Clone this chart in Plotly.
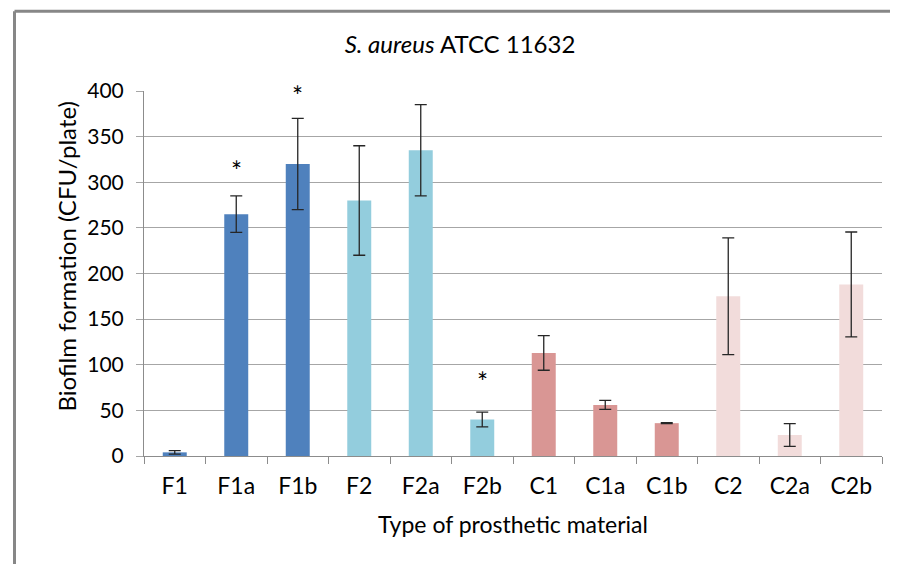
import plotly.graph_objects as go

categories = ["F1", "F1a", "F1b", "F2", "F2a", "F2b", "C1", "C1a", "C1b", "C2", "C2a", "C2b"]
values = [4, 265, 320, 280, 335, 40, 113, 56, 36, 175, 23, 188]
errors = [2, 20, 50, 60, 50, 8, 19, 5, 0.5, 64, 12.5, 57.5]
colors = ["#4F81BD"] * 3 + ["#93CDDD"] * 3 + ["#D99694"] * 3 + ["#F2DCDB"] * 3
star_cats = ["F1a", "F1b", "F2b"]
star_vals = [318, 400, 87]
y_ticks = [0, 50, 100, 150, 200, 250, 300, 350, 400]

FONT = "Lato, Carlito, sans-serif"
GRID = "#A6A6A6"
AX = "#8C8C8C"

W, H = 890, 556
L, R, T, B = 136, 16, 83, 108
pw, ph = W - L - R, H - T - B

fig = go.Figure()
fig.add_trace(go.Bar(
    x=categories, y=values, width=0.39,
    marker=dict(color=colors, line=dict(width=0)),
    error_y=dict(type="data", array=errors, visible=True, color="#262626", thickness=1.3, width=6),
    showlegend=False,
))

for c, v in zip(star_cats, star_vals):
    fig.add_annotation(x=c, y=v, text="*", showarrow=False, yshift=-5,
                       font=dict(size=26, color="#000", family=FONT), yanchor="middle")

fig.add_annotation(text="Biofilm formation (CFU/plate)", textangle=-90, showarrow=False,
                   xref="paper", yref="paper", x=(58 - L) / pw, y=(H - B - 248.5) / ph,
                   xanchor="center", yanchor="middle", font=dict(size=24, family=FONT, color="#000"))

fig.update_layout(
    width=W, height=H,
    margin=dict(l=L, r=R, t=T, b=B),
    paper_bgcolor="white", plot_bgcolor="white",
    font=dict(family=FONT, color="#000", size=22),
    title=dict(text="<i>S. aureus</i> ATCC 11632", x=452 / W, xanchor="center",
               y=1 - 37 / H, yanchor="middle", font=dict(size=24, family=FONT, color="#000")),
    xaxis=dict(
        type="category", tickson="boundaries", ticks="outside", ticklen=7, tickcolor=AX,
        showline=True, linecolor=AX, linewidth=1, showgrid=False,
        title=dict(text="Type of prosthetic material", font=dict(size=23), standoff=19),
        tickfont=dict(size=23), ticklabelstandoff=9,
    ),
    yaxis=dict(
        range=[0, 400], tickvals=y_ticks,
        ticks="outside", ticklen=7, tickcolor=GRID,
        showline=True, linecolor=AX, linewidth=1,
        showgrid=True, gridcolor=GRID, gridwidth=1.3, zeroline=False,
        tickfont=dict(size=21), ticklabelstandoff=8,
    ),
)

# outer chart frame (top and left edges visible in the reference crop)
fx = (6.5 - L) / pw
fy = (H - B - 3.3) / ph
fig.add_shape(type="line", xref="paper", yref="paper", x0=fx, x1=(W + 20 - L) / pw, y0=fy, y1=fy,
              line=dict(color="#878787", width=3), layer="below")
fig.add_shape(type="line", xref="paper", yref="paper", x0=fx, x1=fx, y0=fy, y1=-(B + 20) / ph,
              line=dict(color="#878787", width=3), layer="below")

fig.write_html("out.html")
